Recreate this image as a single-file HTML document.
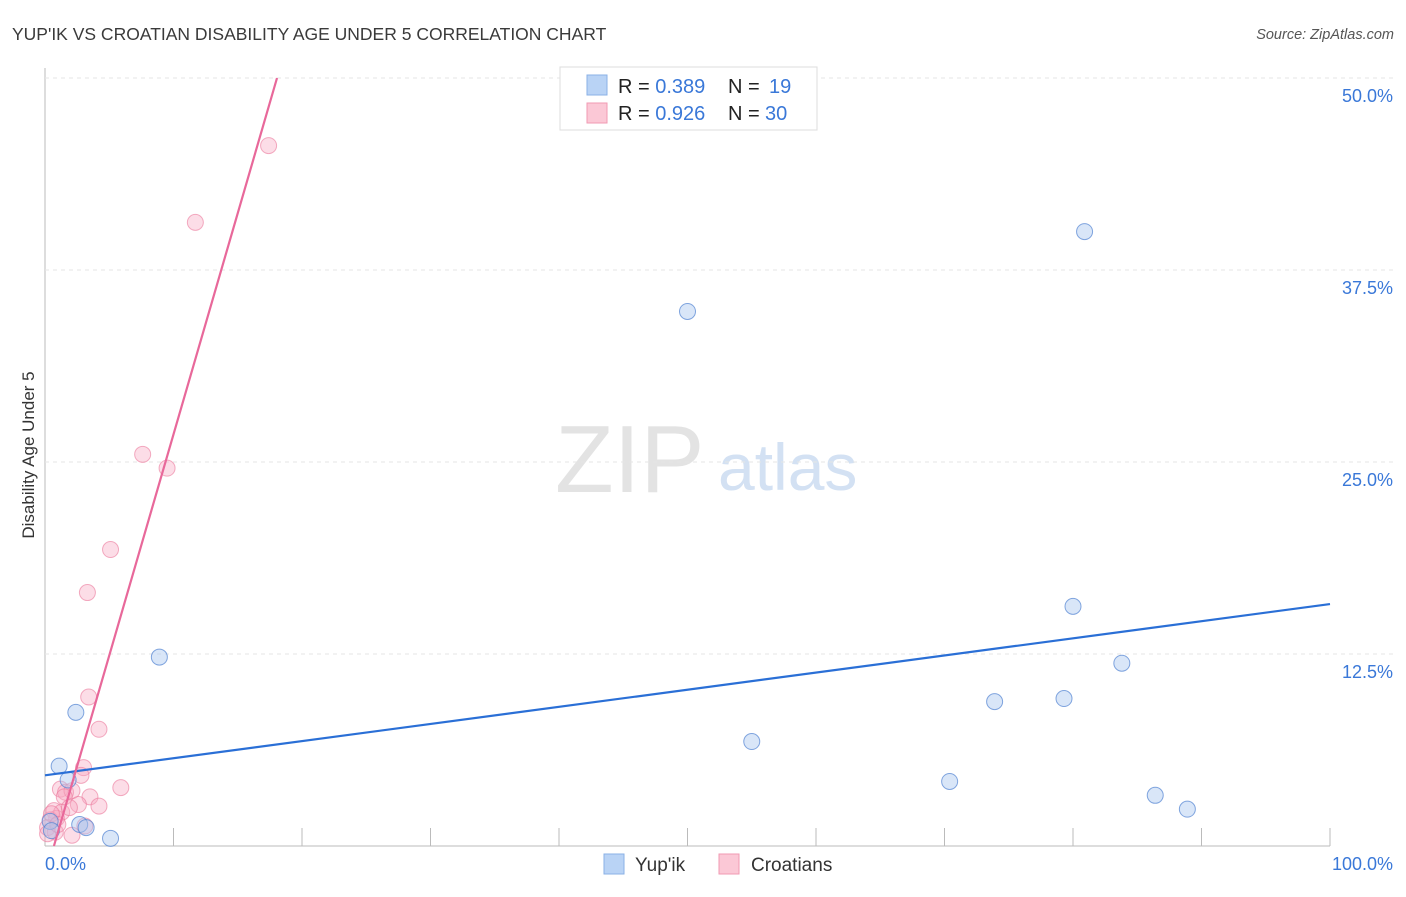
<!DOCTYPE html>
<html><head><meta charset="utf-8"><style>
body{margin:0;background:#fff;font-family:"Liberation Sans",sans-serif}
svg text{font-family:"Liberation Sans",sans-serif}
</style></head><body>
<svg id="chart" width="1406" height="892" xmlns="http://www.w3.org/2000/svg">
<text x="12" y="40" font-size="17.5" fill="#3a3a3a">YUP'IK VS CROATIAN DISABILITY AGE UNDER 5 CORRELATION CHART</text>
<text x="1394" y="39" font-size="14.5" fill="#555" font-style="italic" text-anchor="end">Source: ZipAtlas.com</text>
<text x="555" y="492" font-size="96" fill="#e3e3e3" font-family="Liberation Serif">ZIP</text>
<text x="718" y="490" font-size="66" fill="#d3e1f3">atlas</text>
<text transform="translate(34,455) rotate(-90)" font-size="17" fill="#333" text-anchor="middle">Disability Age Under 5</text>
<g id="grid"></g><g id="pts"></g><g id="lines"></g>
<g>
<rect x="560" y="67" width="257" height="63" fill="#fff" stroke="#ddd"/>
<rect x="587" y="75" width="20" height="20" fill="#b9d3f5" stroke="#8ab0e6"/>
<rect x="587" y="103" width="20" height="20" fill="#fbc8d6" stroke="#f09ab3"/>
<text x="618" y="93" font-size="20" fill="#222">R = <tspan fill="#3a78d8">0.389</tspan><tspan x="728">N = </tspan><tspan x="769" fill="#3a78d8">19</tspan></text>
<text x="618" y="120" font-size="20" fill="#222">R = <tspan fill="#3a78d8">0.926</tspan><tspan x="728">N = </tspan><tspan x="765" fill="#3a78d8">30</tspan></text>
</g>
<g>
<rect x="604" y="854" width="20" height="20" fill="#b9d3f5" stroke="#8ab0e6"/>
<text x="635" y="871" font-size="19" fill="#333">Yup'ik</text>
<rect x="719" y="854" width="20" height="20" fill="#fbc8d6" stroke="#f09ab3"/>
<text x="751" y="871" font-size="19" fill="#333">Croatians</text>
</g>
</svg>
<script>
const yTicks=[12.5,25,37.5,50];
const yTickLabels=["12.5%","25.0%","37.5%","50.0%"];
const xTickLabels=["0.0%","100.0%"];
const yupikX=[1.1,1.8,2.4,2.7,3.2,5.1,8.9,50.0,55.0,70.4,73.9,79.3,80.0,80.9,83.8,86.4,88.9,0.4,0.5];
const yupikY=[5.2,4.3,8.7,1.4,1.2,0.5,12.3,34.8,6.8,4.2,9.4,9.6,15.6,40.0,11.9,3.3,2.4,1.6,1.0];
const croX=[17.4,11.7,7.6,9.5,5.1,3.3,3.4,4.2,5.9,3.0,2.8,1.2,1.6,2.1,3.5,4.2,2.6,1.5,0.7,0.9,0.4,0.2,0.8,2.1,1.3,0.5,0.2,3.1,1.9,1.0];
const croY=[45.6,40.6,25.5,24.6,19.3,16.5,9.7,7.6,3.8,5.1,4.6,3.7,3.5,3.6,3.2,2.6,2.7,3.2,2.3,1.8,1.7,1.2,0.9,0.7,2.2,2.1,0.8,1.3,2.5,1.4];
const yupikTrend=[4.6,0.1115];
const croTrend=[-2.0,2.88];
const X0=45,X1=1330,Y0=846,Y50=78;
const sx=v=>X0+(X1-X0)*v/100;
const sy=v=>Y0-(Y0-Y50)*v/50;
const NS="http://www.w3.org/2000/svg";
function mk(t,a,p){const e=document.createElementNS(NS,t);for(const k in a)e.setAttribute(k,a[k]);p.appendChild(e);return e;}
const grid=document.getElementById('grid');
mk('line',{x1:X0,y1:68,x2:X0,y2:Y0,stroke:'#bbb'},grid);
mk('line',{x1:X0,y1:Y0,x2:X1,y2:Y0,stroke:'#bbb'},grid);
yTicks.forEach((t,i)=>{
 const g=mk('line',{x1:X0,y1:sy(t),x2:1394,y2:sy(t),stroke:'#e6e6e6','stroke-dasharray':'4,4'},grid);
 
 
 const l=mk('text',{x:1393,y:sy(t)+24,'font-size':18,fill:'#3a78d8','text-anchor':'end'},grid);
 l.textContent=yTickLabels[i];
 
 
});
for(let i=0;i<=10;i++){
 const k=mk('line',{x1:sx(i*10),y1:828,x2:sx(i*10),y2:Y0,stroke:'#bbb'},grid);
 
 
}
const xl0=mk('text',{x:45,y:870,'font-size':18,fill:'#3a78d8'},grid);xl0.textContent=xTickLabels[0];


const xl1=mk('text',{x:1393,y:870,'font-size':18,fill:'#3a78d8','text-anchor':'end'},grid);xl1.textContent=xTickLabels[1];


const pts=document.getElementById('pts');
croX.forEach((x,i)=>{const c=mk('circle',{cx:sx(x),cy:sy(croY[i]),r:8,fill:'rgba(248,170,195,0.4)',stroke:'rgba(235,120,155,0.6)'},pts);
 
 });
yupikX.forEach((x,i)=>{const c=mk('circle',{cx:sx(x),cy:sy(yupikY[i]),r:8,fill:'rgba(170,200,240,0.45)',stroke:'rgba(80,130,210,0.7)'},pts);
 
 });
const lines=document.getElementById('lines');
const bl=mk('line',{x1:sx(0),y1:sy(yupikTrend[0]),x2:sx(100),y2:sy(yupikTrend[0]+yupikTrend[1]*100),stroke:'#2a6fd6','stroke-width':2.2},lines);


const xa=Math.max(0,-croTrend[0]/croTrend[1]), xb=(50-croTrend[0])/croTrend[1];
const pl=mk('line',{x1:sx(xa),y1:sy(croTrend[0]+croTrend[1]*xa),x2:sx(xb),y2:sy(50),stroke:'#e8689a','stroke-width':2.2},lines);


</script>
</body></html>
